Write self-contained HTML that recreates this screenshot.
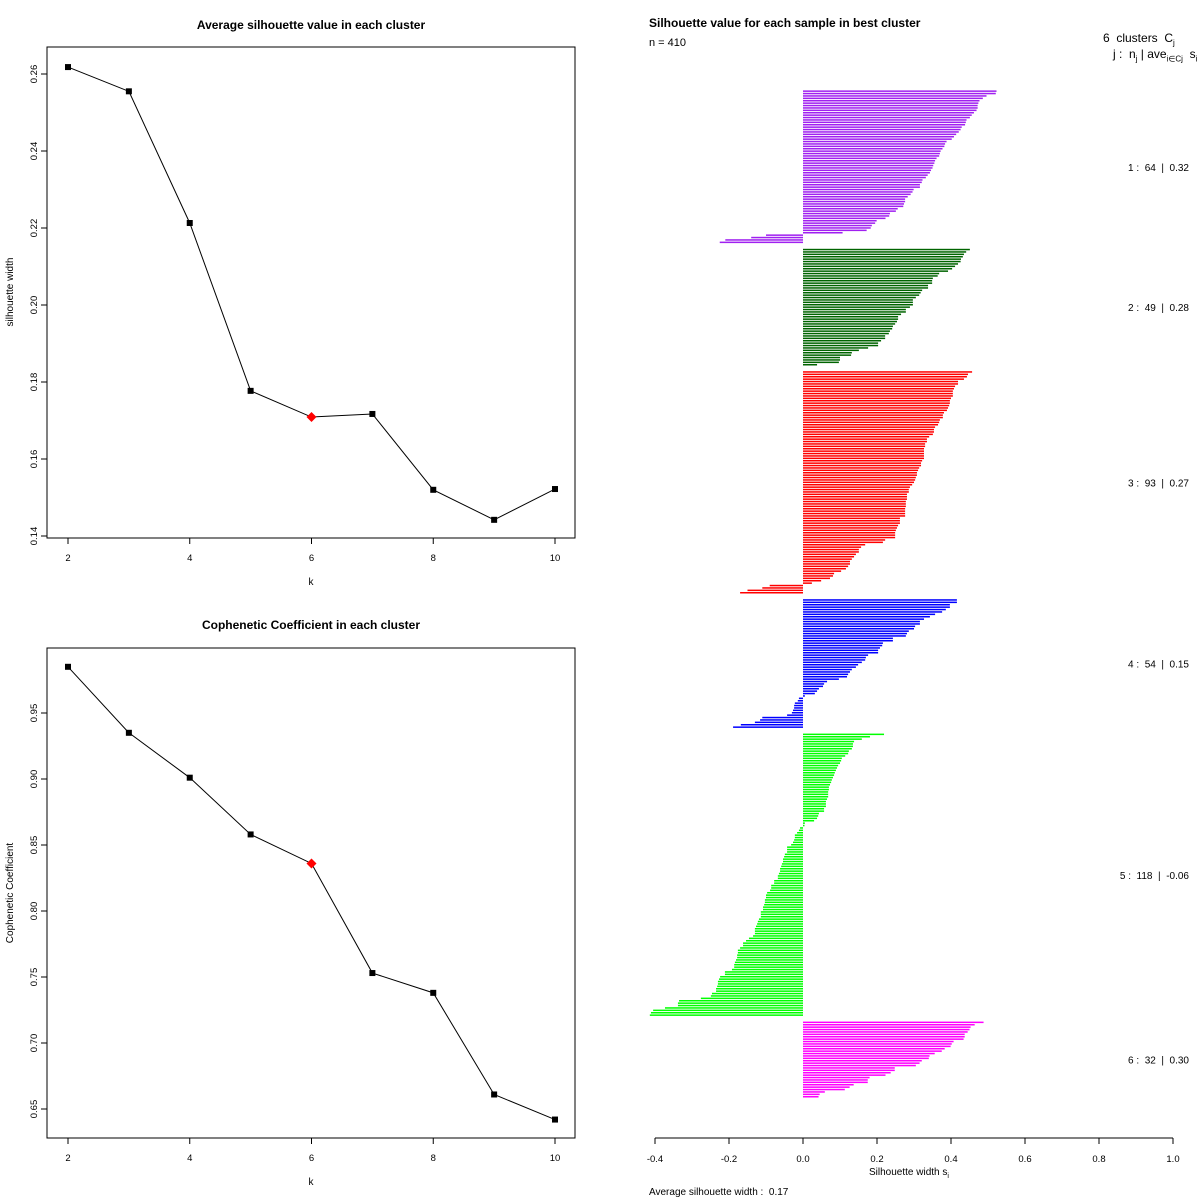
<!DOCTYPE html>
<html><head><meta charset="utf-8">
<style>
html,body{margin:0;padding:0;background:#fff;}
svg{display:block;font-family:"Liberation Sans",Arial,sans-serif;}
.pre{white-space:pre;}
</style></head>
<body>
<svg id="chart" width="1200" height="1200" viewBox="0 0 1200 1200" xmlns="http://www.w3.org/2000/svg"></svg>
<script>
// ---- data ----
const kValues = [2,3,4,5,6,7,8,9,10];
const silhouetteAvg = [0.2618,0.2555,0.2213,0.1777,0.1709,0.1717,0.1520,0.1442,0.1522];
const copheneticVals = [0.985,0.935,0.901,0.858,0.836,0.753,0.738,0.661,0.642];
const bestK = 6;
const silTicks = [0.14,0.16,0.18,0.20,0.22,0.24,0.26];
const copTicks = [0.65,0.70,0.75,0.80,0.85,0.90,0.95];
const kTicks = [2,4,6,8,10];
const sTicks = [-0.4,-0.2,0.0,0.2,0.4,0.6,0.8,1.0];
const clusterColors = ["#a020f0","#006400","#ff0000","#0000ff","#00ff00","#ff00ff"];
const clusterLabels = ["1 :  64  |  0.32","2 :  49  |  0.28","3 :  93  |  0.27","4 :  54  |  0.15","5 :  118  |  -0.06","6 :  32  |  0.30"];
const cluster1 = [0.523,0.521,0.496,0.486,0.477,0.474,0.472,0.472,0.469,0.462,0.456,0.451,0.442,0.44,0.438,0.429,0.426,0.421,0.414,0.408,0.402,0.388,0.384,0.382,0.377,0.372,0.37,0.368,0.361,0.357,0.355,0.352,0.35,0.346,0.343,0.337,0.332,0.323,0.321,0.316,0.316,0.299,0.296,0.291,0.283,0.276,0.276,0.273,0.271,0.256,0.251,0.235,0.233,0.223,0.199,0.195,0.186,0.183,0.172,0.107,-0.10,-0.14,-0.21,-0.225];
const cluster2 = [0.451,0.441,0.435,0.432,0.427,0.426,0.419,0.411,0.403,0.392,0.368,0.364,0.351,0.349,0.349,0.338,0.338,0.322,0.318,0.314,0.305,0.297,0.297,0.297,0.289,0.278,0.278,0.265,0.257,0.257,0.254,0.249,0.243,0.241,0.235,0.232,0.222,0.222,0.211,0.203,0.203,0.176,0.151,0.132,0.13,0.1,0.1,0.097,0.038];
const cluster3 = [0.457,0.446,0.443,0.435,0.419,0.419,0.411,0.408,0.405,0.405,0.405,0.4,0.397,0.397,0.395,0.392,0.389,0.381,0.378,0.378,0.37,0.368,0.365,0.357,0.354,0.354,0.351,0.341,0.335,0.335,0.33,0.33,0.327,0.327,0.327,0.327,0.327,0.322,0.319,0.319,0.314,0.311,0.308,0.308,0.305,0.303,0.3,0.295,0.289,0.286,0.286,0.281,0.281,0.281,0.278,0.278,0.278,0.276,0.276,0.276,0.276,0.262,0.262,0.262,0.257,0.254,0.251,0.249,0.249,0.249,0.222,0.216,0.168,0.157,0.151,0.151,0.143,0.138,0.132,0.127,0.127,0.122,0.116,0.103,0.084,0.081,0.073,0.049,0.024,-0.09,-0.11,-0.15,-0.17];
const cluster4 = [0.416,0.416,0.397,0.397,0.386,0.376,0.357,0.343,0.327,0.316,0.316,0.303,0.3,0.286,0.281,0.278,0.243,0.243,0.216,0.214,0.208,0.203,0.203,0.176,0.17,0.168,0.159,0.149,0.143,0.132,0.127,0.122,0.119,0.097,0.065,0.057,0.054,0.043,0.038,0.032,0.005,-0.011,-0.014,-0.022,-0.024,-0.024,-0.027,-0.03,-0.043,-0.11,-0.116,-0.13,-0.168,-0.189];
const cluster5 = [0.219,0.181,0.159,0.138,0.135,0.135,0.132,0.124,0.122,0.114,0.105,0.103,0.1,0.095,0.092,0.089,0.086,0.084,0.081,0.078,0.076,0.073,0.07,0.07,0.068,0.068,0.068,0.065,0.062,0.062,0.062,0.057,0.057,0.043,0.041,0.038,0.03,0.005,0.004,
-0.008,-0.011,-0.016,-0.022,-0.022,-0.024,-0.027,-0.032,-0.043,-0.043,-0.043,-0.049,-0.051,-0.054,-0.054,-0.057,-0.059,-0.062,-0.062,-0.065,-0.068,-0.068,-0.078,-0.078,-0.086,-0.086,-0.089,-0.097,-0.1,-0.1,-0.103,-0.103,-0.105,-0.108,-0.108,-0.114,-0.114,-0.114,-0.119,-0.122,-0.124,-0.127,-0.13,-0.13,-0.13,-0.135,-0.146,-0.154,-0.162,-0.162,-0.17,-0.176,-0.176,-0.178,-0.178,-0.181,-0.184,-0.186,-0.186,-0.192,-0.211,-0.211,-0.224,-0.227,-0.23,-0.23,-0.232,-0.235,-0.235,-0.246,-0.249,-0.276,-0.335,-0.338,-0.338,-0.373,-0.405,-0.411,-0.414];
const cluster6 = [0.488,0.464,0.453,0.45,0.445,0.437,0.437,0.434,0.407,0.402,0.399,0.383,0.375,0.356,0.342,0.34,0.321,0.315,0.305,0.248,0.248,0.237,0.223,0.18,0.175,0.175,0.137,0.126,0.113,0.059,0.045,0.042];
const clusters = [cluster1,cluster2,cluster3,cluster4,cluster5,cluster6];

const NS="http://www.w3.org/2000/svg";
const svg=document.getElementById('chart');
function el(tag,attrs,parent,text){const e=document.createElementNS(NS,tag);for(const k in attrs)e.setAttribute(k,attrs[k]);if(text!==undefined)e.textContent=text;(parent||svg).appendChild(e);return e;}

// ---- line panels ----
function panel(cfg){
  const g=el('g',{});
  
  
  const L=47,R=575,T=cfg.top,B=cfg.bottom;
  const xS=k=>68+(k-2)*(555-68)/8;
  const yS=v=>cfg.y0+(cfg.v0-v)*cfg.scale;
  const box=el('rect',{x:L,y:T,width:R-L,height:B-T,fill:'none',stroke:'#000','stroke-width':1},g);
  
  
  const t=el('text',{x:311,y:cfg.titleY,'text-anchor':'middle','font-size':12,'font-weight':'bold'},g,cfg.title);
  
  
  kTicks.forEach(k=>{
    el('line',{x1:xS(k),x2:xS(k),y1:B,y2:B+6,stroke:'#000'},g);
    const tl=el('text',{x:xS(k),y:B+23,'text-anchor':'middle','font-size':9.5},g,String(k));
    
    
  });
  el('line',{x1:xS(2),x2:xS(10),y1:B,y2:B,stroke:'#000'},g);
  const xl=el('text',{x:311,y:B+47,'text-anchor':'middle','font-size':10},g,'k');
  
  
  cfg.ticks.forEach(v=>{
    const y=yS(v);
    el('line',{x1:L-6,x2:L,y1:y,y2:y,stroke:'#000'},g);
    const tl=el('text',{x:0,y:0,'text-anchor':'middle','font-size':9.5,transform:`translate(37,${y}) rotate(-90)`},g,v.toFixed(2));
    
    
  });
  const yl=el('text',{x:0,y:0,'text-anchor':'middle','font-size':10,transform:`translate(13,${cfg.ylabY}) rotate(-90)`},g,cfg.ylab);
  
  
  const pts=kValues.map((k,i)=>xS(k)+','+yS(cfg.data[i])).join(' ');
  const pl=el('polyline',{points:pts,fill:'none',stroke:'#000','stroke-width':1},g);
  
  
  kValues.forEach((k,i)=>{
    const x=xS(k),y=yS(cfg.data[i]);
    if(k===bestK){
      const d=el('polygon',{points:`${x},${y-5} ${x+5},${y} ${x},${y+5} ${x-5},${y}`,fill:'#ff0000'},g);
      
      
    } else {
      const p=el('rect',{x:x-3,y:y-3,width:6,height:6,fill:'#000'},g);
      
      
    }
  });
}
panel({name:'silhouette-k-panel',top:47,bottom:538,titleY:29,title:'Average silhouette value in each cluster',y0:74,v0:0.26,scale:3850,ticks:silTicks,ylab:'silhouette width',ylabY:292,data:silhouetteAvg});
panel({name:'cophenetic-panel',top:648,bottom:1138,titleY:629,title:'Cophenetic Coefficient in each cluster',y0:713,v0:0.95,scale:1320,ticks:copTicks,ylab:'Cophenetic Coefficient',ylabY:893,data:copheneticVals});

// ---- silhouette plot ----
const sg=el('g',{});


const sx=v=>803+v*370;
const unit=1008/420, top0=90;
let pos=0;
clusters.forEach((arr,c)=>{
  const start=pos;
  arr.forEach(v=>{
    const y=top0+pos*unit;
    const x1=Math.min(sx(0),sx(v)), w=Math.abs(sx(v)-sx(0));
    const r=el('rect',{x:x1,y:y+0.4,width:Math.max(w,0.8),height:1.5,fill:clusterColors[c]},sg);
    
    
    pos++;
  });
  const mid=top0+(start+pos)/2*unit;
  const lb=el('text',{x:1189,y:mid+4,'text-anchor':'end','font-size':10,'class':'pre'},sg,clusterLabels[c]);
  
  
  pos+=2;
});
el('line',{x1:sx(-0.4),x2:sx(1.0),y1:1138,y2:1138,stroke:'#000'},sg);
sTicks.forEach(v=>{
  el('line',{x1:sx(v),x2:sx(v),y1:1138,y2:1144,stroke:'#000'},sg);
  const tl=el('text',{x:sx(v),y:1162,'text-anchor':'middle','font-size':9.5},sg,v.toFixed(1));
  
  
});
</script>
<div style="position:absolute;left:0;top:0;width:1200px;height:1200px;pointer-events:none;font-family:'Liberation Sans',Arial,sans-serif;">
  <div style="position:absolute;left:649px;top:16px;font-size:12px;font-weight:bold;">Silhouette value for each sample in best cluster</div>
  <div style="position:absolute;left:649px;top:37px;font-size:11px;">n = 410</div>
  <div style="position:absolute;left:1103px;top:31px;font-size:12px;">6&nbsp; clusters&nbsp; C<sub style="font-size:8px">j</sub></div>
  <div style="position:absolute;left:1113px;top:47px;font-size:12px;white-space:nowrap;">j :&nbsp; n<sub style="font-size:8px">j</sub> | ave<sub style="font-size:8px">i∈Cj</sub>&nbsp; s<sub style="font-size:8px">i</sub></div>
  <div style="position:absolute;left:869px;top:1167px;font-size:10px;">Silhouette width s<sub style="font-size:7px">i</sub></div>
  <div style="position:absolute;left:649px;top:1187px;font-size:10px;">Average silhouette width :&nbsp; 0.17</div>
</div>
</body></html>
